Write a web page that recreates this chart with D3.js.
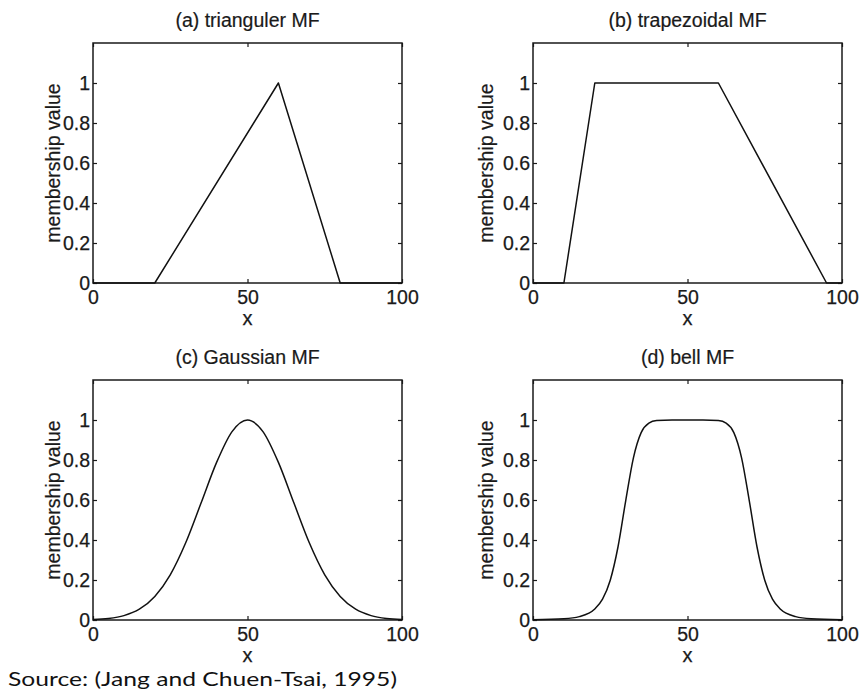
<!DOCTYPE html>
<html>
<head>
<meta charset="utf-8">
<script src="https://cdn.jsdelivr.net/npm/d3@7"></script>
<style>
  body { margin: 0; background: #fff; }
  svg { display: block; }
</style>
</head>
<body>
<div id="chart"></div>
<script>
// valeurs
const titles = ["(a) trianguler MF", "(b) trapezoidal MF", "(c) Gaussian MF", "(d) bell MF"];
const xTicks = [0, 50, 100];
const yTicks = [0, 0.2, 0.4, 0.6, 0.8, 1];

const triX = [0, 20, 60, 80, 100];
const triY = [0, 0, 1, 0, 0];

const trapX = [0, 10, 20, 60, 95, 100];
const trapY = [0, 0, 1, 1, 0, 0];

const gaussX = [0, 5, 10, 15, 20, 25, 30, 35, 40, 45, 50, 55, 60, 65, 70, 75, 80, 85, 90, 95, 100];
const gaussY = [0.003, 0.008, 0.022, 0.054, 0.118, 0.226, 0.386, 0.586, 0.788, 0.942, 1,
                0.942, 0.788, 0.586, 0.386, 0.226, 0.118, 0.054, 0.022, 0.008, 0.003];

const bellX = [0, 10, 15, 20, 22.5, 25, 27.5, 30, 32.5, 35, 37.5, 40, 45, 50,
               55, 60, 62.5, 65, 67.5, 70, 72.5, 75, 77.5, 80, 85, 90, 100];
const bellY = [0.001, 0.006, 0.017, 0.055, 0.104, 0.199, 0.365, 0.596, 0.811, 0.937, 0.984, 0.997, 1, 1,
               1, 0.997, 0.984, 0.937, 0.811, 0.596, 0.365, 0.199, 0.104, 0.055, 0.017, 0.006, 0.001];

const source = "Source: (Jang and Chuen-Tsai, 1995)";

// mise en page des 4 panneaux
const W = 861, H = 700;
const panels = [
  {x: triX,   y: triY,   curve: d3.curveLinear,     left: 93,  top: 43,  labelDx: -33},
  {x: trapX,  y: trapY,  curve: d3.curveLinear,     left: 533, top: 43,  labelDx: -40},
  {x: gaussX, y: gaussY, curve: d3.curveMonotoneX,  left: 93,  top: 380, labelDx: -33},
  {x: bellX,  y: bellY,  curve: d3.curveMonotoneX,  left: 533, top: 380, labelDx: -40}
];
const pw = 309, ph = 240;
const font = "'Liberation Sans', Arial, sans-serif";
const ink = "#1a1a1a";

const svg = d3.select("#chart").append("svg")
  .attr("width", W).attr("height", H);

panels.forEach((p, i) => {
  const g = svg.append("g").attr("transform", `translate(${p.left},${p.top})`);
  const x = d3.scaleLinear().domain([0, 100]).range([0, pw]);
  const y = d3.scaleLinear().domain([0, 1.2]).range([ph, 0]);

  // axes (ticks vers l'intérieur, comme matlab)
  const ax = g.append("g").attr("transform", `translate(0,${ph})`)
    .call(d3.axisBottom(x).tickValues(xTicks).tickSize(-4).tickPadding(8).tickFormat(d3.format("d")));
  const axTop = g.append("g")
    .call(d3.axisTop(x).tickValues(xTicks).tickSize(-4).tickFormat(""));
  const ay = g.append("g")
    .call(d3.axisLeft(y).tickValues(yTicks).tickSize(-4).tickPadding(3).tickFormat(d => d3.format("")(+d.toFixed(1))));
  const ayR = g.append("g").attr("transform", `translate(${pw},0)`)
    .call(d3.axisRight(y).tickValues(yTicks).tickSize(-4).tickFormat(""));

  [ax, axTop, ay, ayR].forEach(a => {
    a.select(".domain").remove();
    a.selectAll(".tick line").attr("stroke", ink).attr("stroke-width", 1.2);
    a.selectAll(".tick text").attr("fill", ink).attr("font-family", font).attr("font-size", "19.5px")
      .attr("stroke", ink).attr("stroke-width", 0.25);
  });
  ax.selectAll(".tick text").attr("dy", "0.71em").attr("y", 7);

  // le cadre
  g.append("rect")
    .attr("width", pw).attr("height", ph)
    .attr("fill", "none").attr("stroke", ink).attr("stroke-width", 1.5);

  // la courbe
  const pts = p.x.map((v, k) => [v, p.y[k]]);
  g.append("path")
    .datum(pts)
    .attr("fill", "none")
    .attr("stroke", "#111")
    .attr("stroke-width", 1.5)
    .attr("stroke-linejoin", "round")
    .attr("d", d3.line().x(d => x(d[0])).y(d => y(d[1])).curve(p.curve));

  // titres et libellés
  g.append("text")
    .attr("x", pw / 2).attr("y", -16)
    .attr("text-anchor", "middle")
    .attr("font-family", font).attr("font-size", "19.5px").attr("fill", ink)
    .attr("stroke", ink).attr("stroke-width", 0.2)
    .text(titles[i]);
  g.append("text")
    .attr("x", pw / 2).attr("y", ph + 42)
    .attr("text-anchor", "middle")
    .attr("font-family", font).attr("font-size", "20px").attr("fill", ink)
    .attr("stroke", ink).attr("stroke-width", 0.25)
    .text("x");
  g.append("text")
    .attr("transform", `translate(${p.labelDx},${ph / 2}) rotate(-90)`)
    .attr("text-anchor", "middle")
    .attr("font-family", font).attr("font-size", "19.5px").attr("fill", ink)
    .attr("stroke", ink).attr("stroke-width", 0.2)
    .text("membership value");
});

svg.append("text")
  .attr("x", 8).attr("y", 686)
  .attr("font-family", "Lato, 'Open Sans', sans-serif").attr("font-size", "20px").attr("fill", "#111")
  .attr("textLength", 389).attr("lengthAdjust", "spacingAndGlyphs")
  .text(source);
</script>
</body>
</html>
